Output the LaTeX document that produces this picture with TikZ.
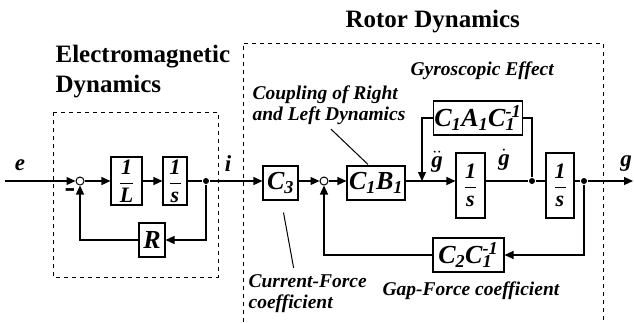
\documentclass[tikz,border=0pt]{standalone}
\usepackage{fontspec}
\setmainfont{Liberation Serif}
\usepackage{tikz}
\usetikzlibrary{positioning,calc,arrows.meta}

\newcommand{\ssub}[1]{\textsubscript{#1}}
\newcommand{\sinv}[1]{\makebox[0pt][l]{\textsuperscript{-1}}\textsubscript{#1}\hphantom{\textsuperscript{-}}}
\newcommand{\frc}[2]{$\displaystyle\frac{\hbox{#1}}{\hbox{#2}}$}

\begin{document}
\begin{tikzpicture}[
    x=1pt, y=-1pt, line width=1.2pt,
    every node/.style={font=\fontsize{26}{28}\selectfont\bfseries\itshape},
    blk/.style={draw, line width=1.1pt, inner sep=1pt, minimum height=34pt, align=center},
    frac/.style={blk, font=\fontsize{22}{24}\selectfont\bfseries\itshape},
    sumpt/.style={draw, circle, line width=1pt, inner sep=0pt, minimum size=8pt},
    dotpt/.style={fill, circle, inner sep=0pt, minimum size=6pt},
    sig/.style={font=\fontsize{23}{25}\selectfont\bfseries\itshape},
    ttl/.style={font=\fontsize{25}{30}\selectfont\bfseries, inner sep=0pt, align=left},
    note/.style={font=\fontsize{19.5}{21}\selectfont\bfseries\itshape, inner sep=0pt, align=left, anchor=base west},
    frame/.style={line width=1pt, dash pattern=on 4pt off 4pt},
    ptr/.style={line width=1pt},
    >={Triangle[length=9pt,width=8pt]},
]
\useasboundingbox (0,0) rectangle (634,322);

% =====================================================================
% Electromagnetic part
% =====================================================================
\draw[frame] (53,112) rectangle (218,277);
\node[ttl, anchor=north west] (emtitle) at (55,45) {Electromagnetic\\Dynamics};

\node[sig] (e) at (20,165) {e};
\coordinate (in) at (5,181);
\node[sumpt] (s1) at (80,181) {};
\node[font=\fontsize{32}{32}\selectfont\bfseries, inner sep=0pt] (minus) at (70,193) {-};
\node[frac, minimum width=31pt, minimum height=48pt] (invL) at (126.5,181) {\frc{1}{L}};
\node[frac, minimum width=24pt, minimum height=48pt] (int1) at (175,181) {\frc{1}{s}};
\node[dotpt] (d1) at (206,181) {};
\node[blk, minimum width=26pt] (R) at (152,240) {R};

\draw[->] (in) -- (s1);
\draw[->] (s1) -- (invL);
\draw[->] (invL) -- (int1);
\draw (int1) -- (d1);
\draw[->] (d1) |- (R);
\draw[->] (R) -| (s1);

% =====================================================================
% Rotor part
% =====================================================================
\draw[frame] (243,322) -- (243,43) -- (603,43) -- (603,322);
\node[ttl, anchor=base west] (rotortitle) at (345,27) {Rotor Dynamics};

\node[sig] (i) at (228,164) {i};
\node[blk, minimum width=35pt] (C3) at (280.5,183) {C\ssub{3}};
\node[sumpt] (s2) at (324,181) {};
\node[blk, minimum width=58pt] (CB) at (376,183) {C\ssub{1}B\ssub{1}};
\coordinate (j1) at (422,181);
\node[sig] (gdd) at (437,162) {$\ddot{\hbox{g}}$};
\node[frac, minimum width=29pt, minimum height=65pt] (int2) at (470.5,185.5) {\frc{1}{s}};
\node[sig] (gd) at (504,160) {$\dot{\hbox{g}}$};
\node[dotpt] (d2) at (532,181) {};
\node[frac, minimum width=28pt, minimum height=65pt] (int3) at (560,185.5) {\frc{1}{s}};
\node[dotpt] (d3) at (584,181) {};
\coordinate (out) at (633,181);
\node[sig] (g) at (626,164) {g};

% feedback blocks
\node[blk, minimum width=88pt] (gyro) at (478,118) {C\ssub{1}A\ssub{1}C\sinv{1}};
\node[blk, minimum width=71pt] (gap) at (468.5,255) {C\ssub{2}C\sinv{1}};

\draw[->] (d1) -- (C3.west |- d1);
\draw[->] (C3.east |- s2) -- (s2);
\draw[->] (s2) -- (CB.west |- s2);
\draw (CB.east |- j1) -- (j1);
\draw[->] (j1) -- (int2.west |- j1);
\draw (int2.east |- d2) -- (d2);
\draw (d2) -- (int3.west |- d2);
\draw (int3.east |- d3) -- (d3);
\draw[->] (d3) -- (out);
\draw (d2) |- (gyro.east);
\draw[->] (gyro.west) -| (j1);
\draw[->] (d3) |- (gap.east);
\draw[->] (gap.west) -| (s2);

% annotations
\node[note, anchor=north west] (coupling) at (252,85) {Coupling of Right\\and Left Dynamics};
\node[note] (gyrotxt) at (410,75) {Gyroscopic Effect};
\node[note, anchor=north west] (cf) at (248,274) {Current-Force\\coefficient};
\node[note] (gf) at (382,295) {Gap-Force coefficient};

\draw[ptr] ($(coupling.south)+(2,4)$) -- ($(CB.north)+(-8,-1)$);
\draw[ptr] ($(C3.south)+(3,12)$) -- ($(cf.north)+(-14,-6)$);
\end{tikzpicture}
\end{document}
